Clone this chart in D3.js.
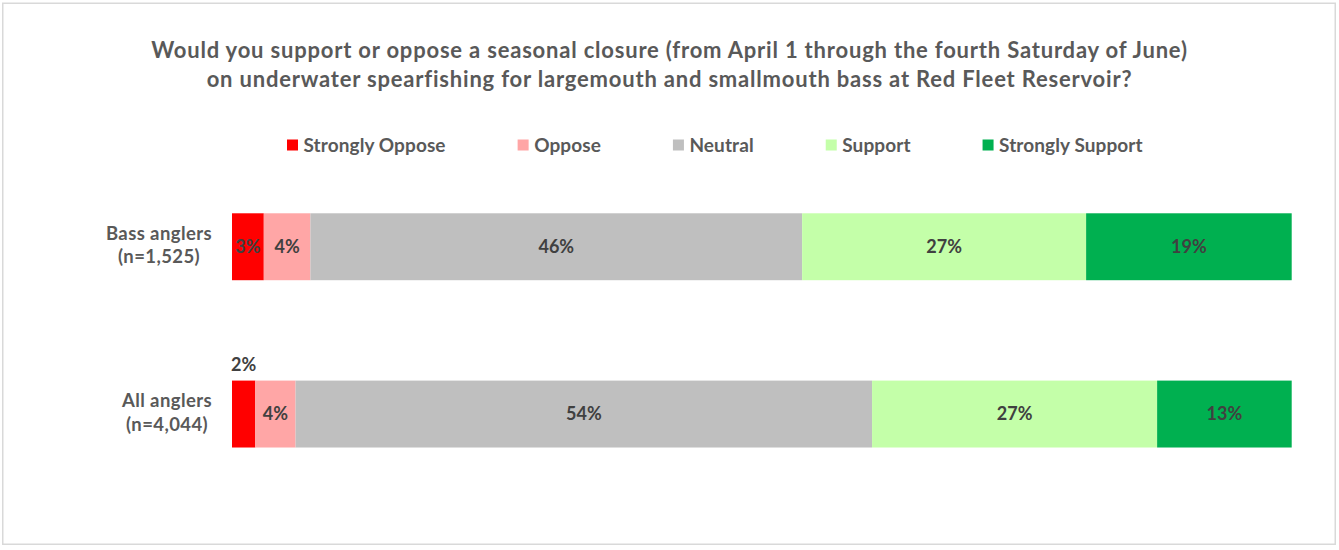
<!DOCTYPE html>
<html>
<head>
<meta charset="utf-8">
<script src="https://cdn.jsdelivr.net/npm/d3@7"></script>
<style>
  html, body { margin: 0; padding: 0; background: #fff; }
  svg { display: block; }
  text { font-family: Lato, "Open Sans", sans-serif; font-weight: bold; }
</style>
</head>
<body>
<svg id="chart" width="1339" height="550"></svg>
<script>
// Survey responses (percent of respondents)
const groups = ["Bass anglers", "All anglers"];
const groupSizes = ["(n=1,525)", "(n=4,044)"];
const responses = ["Strongly Oppose", "Oppose", "Neutral", "Support", "Strongly Support"];
const bassAnglers = [3.0, 4.4, 46.4, 26.8, 19.4];
const allAnglers = [2.2, 3.8, 54.4, 26.9, 12.7];
const responseColors = ["#FF0000", "#FFA6A6", "#BFBFBF", "#C4FFA9", "#00B050"];
const titleLines = [
  "Would you support or oppose a seasonal closure (from April 1 through the fourth Saturday of June)",
  "on underwater spearfishing for largemouth and smallmouth bass at Red Fleet Reservoir?"
];

const svg = d3.select("#chart");

// chart frame
svg.append("rect")
  .attr("x", 2.75).attr("y", 3.25)
  .attr("width", 1332.5).attr("height", 541)
  .attr("fill", "#fff").attr("stroke", "#D9D9D9").attr("stroke-width", 1.5);

// title
svg.append("g").selectAll("text").data(titleLines).join("text")
  .attr("x", 669.5)
  .attr("y", (d, i) => 58 + i * 28.5)
  .attr("text-anchor", "middle")
  .attr("fill", "#595959")
  .style("font-size", "22px")
  .style("letter-spacing", "0.8px")
  .text(d => d);

// stacked rows, each normalised to 100%
const rows = [bassAnglers, allAnglers].map((vals, gi) => {
  const total = d3.sum(vals);
  let acc = 0;
  return vals.map((v, ri) => {
    const seg = { group: groups[gi], response: responses[ri], value: v, x0: acc / total * 100, x1: (acc + v) / total * 100, ri };
    acc += v;
    return seg;
  });
});

const x = d3.scaleLinear().domain([0, 100]).range([232, 1291.7]);
const y = d3.scaleBand().domain(groups).range([163.1, 497.7]).paddingInner(0.6).paddingOuter(0.3);

const plot = svg.append("g");
rows.forEach(row => {
  const g = plot.append("g");
  g.selectAll("rect").data(row).join("rect")
    .attr("x", d => x(d.x0))
    .attr("y", d => y(d.group))
    .attr("width", d => x(d.x1) - x(d.x0))
    .attr("height", y.bandwidth())
    .attr("fill", d => responseColors[d.ri]);

  // value labels; very narrow segments get their label above the bar
  g.selectAll("text").data(row).join("text")
    .attr("x", d => (x(d.x0) + x(d.x1)) / 2)
    .attr("y", d => {
      const w = x(d.x1) - x(d.x0);
      return w < 28 ? y(d.group) - 10 : y(d.group) + y.bandwidth() / 2 + 6.3;
    })
    .attr("text-anchor", "middle")
    .attr("fill", "#404040")
    .style("font-size", "18px")
    .text(d => Math.round(d.value) + "%");
});

// category labels: lines centred within a block that sits against the bars
const cat = svg.append("g");
groups.forEach((gName, i) => {
  const lines = [gName, groupSizes[i]];
  const cy = y(gName) + y.bandwidth() / 2;
  const t = cat.selectAll(null).data(lines).join("text")
    .attr("y", (d, j) => cy - 7 + j * 23.5)
    .attr("text-anchor", "middle")
    .attr("fill", "#595959")
    .style("font-size", "18.5px")
    .style("letter-spacing", "0.4px")
    .text(d => d);
  const maxW = d3.max(t.nodes(), n => n.getComputedTextLength());
  t.attr("x", 212 - maxW / 2);
});

// legend: square, label, then fixed spacing to the next entry
const legend = svg.append("g");
let lx = 287;
responses.forEach((r, i) => {
  legend.append("rect")
    .attr("x", lx).attr("y", 139.5)
    .attr("width", 11).attr("height", 11)
    .attr("fill", responseColors[i]);
  const t = legend.append("text")
    .attr("x", lx + 16.5).attr("y", 151.5)
    .attr("fill", "#595959")
    .style("font-size", "19px")
    .style("letter-spacing", "0.1px")
    .text(r);
  lx += 16.5 + t.node().getComputedTextLength() + 72;
});
</script>
</body>
</html>
